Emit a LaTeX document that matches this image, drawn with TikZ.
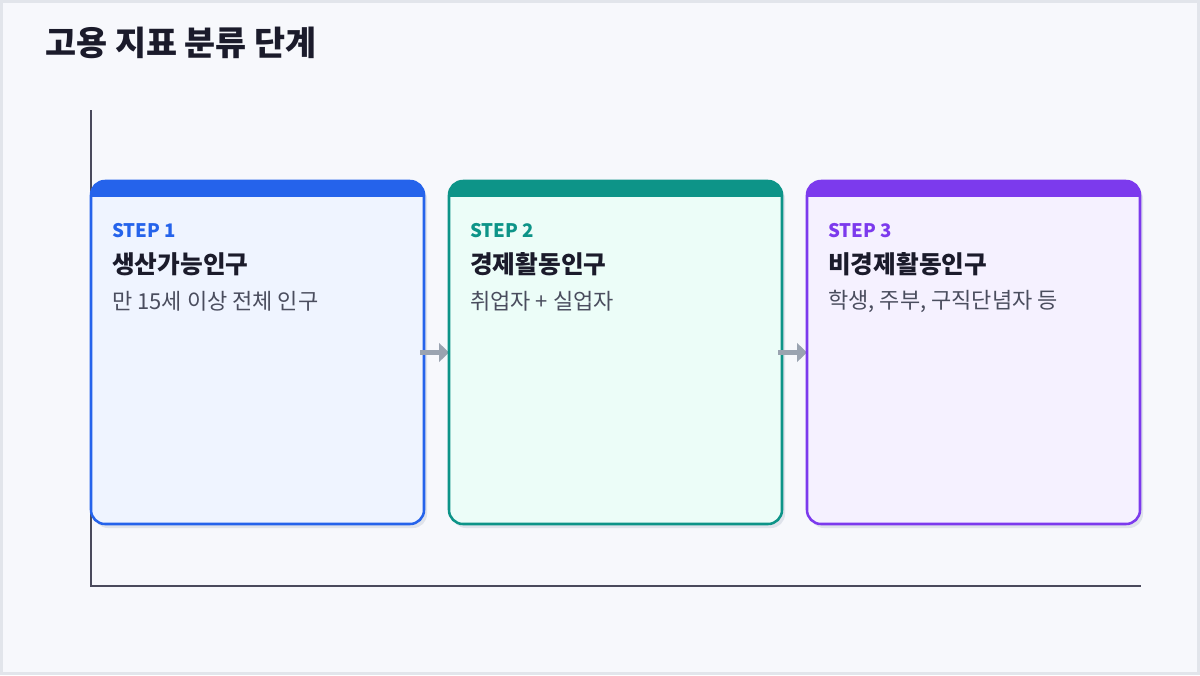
\documentclass[tikz,border=0pt]{standalone}
\usepackage{fontspec}
\setmainfont{Noto Sans CJK KR}
\usetikzlibrary{arrows.meta}
\definecolor{bgc}{HTML}{F7F8FC}
\definecolor{framec}{HTML}{E2E5EB}
\definecolor{axisc}{HTML}{4A4A5C}
\definecolor{titlec}{HTML}{1B1B2B}
\definecolor{descc}{HTML}{4A4D5E}
\definecolor{arrowc}{HTML}{9AA3B0}
\definecolor{shadowc}{HTML}{DFE3EB}
\definecolor{blueA}{HTML}{2563EB}
\definecolor{blueB}{HTML}{EFF4FF}
\definecolor{tealA}{HTML}{0D9488}
\definecolor{tealB}{HTML}{ECFDF8}
\definecolor{purA}{HTML}{7C3AED}
\definecolor{purB}{HTML}{F5F1FF}
\tikzset{
  boxbody/.style={rounded corners=10.5pt, line width=1.9pt},
  boxshadow/.style={rounded corners=10.5pt, fill=shadowc},
  steplabel/.style={anchor=west, inner sep=0pt, font=\fontsize{14pt}{16pt}\selectfont\bfseries},
  boxtitle/.style={anchor=west, inner sep=0pt, text=titlec, font=\fontsize{18.5pt}{21pt}\selectfont\bfseries},
  boxdesc/.style={anchor=west, inner sep=0pt, text=descc, font=\fontsize{16.5pt}{19pt}\selectfont},
  flowarrow/.style={draw=arrowc, line width=3.2pt, -{Triangle[length=7.5pt,width=14pt]}},
  axisline/.style={draw=axisc, line width=1.5pt},
}
\newcommand{\stepbox}[6]{%
  % #1 name, #2 x, #3 main colour, #4 fill colour, #5 step, #6 title
  \fill[boxshadow] (#2+3,185) rectangle (#2+336,528);
  \draw[boxbody, draw=#3, fill=#4] (#2,181) rectangle (#2+333,524);
  \begin{scope}
    \clip[rounded corners=10.5pt] (#2,181) rectangle (#2+333,524);
    \fill[#3] (#2,180) rectangle (#2+333,197);
  \end{scope}
  \node[draw=none, minimum width=333*0.75pt, minimum height=343*0.75pt, inner sep=0pt] (#1) at (#2+166.5,352.5) {};
  \node[steplabel, text=#3] (#1s) at (#2+21,231) {#5};
  \node[boxtitle] (#1t) at (#2+21,264) {#6};
}
\begin{document}
\begin{tikzpicture}[x=0.75pt,y=-0.75pt]
  \useasboundingbox (0,0) rectangle (1200,675);
  \fill[bgc] (0,0) rectangle (1200,675);
  \draw[framec, line width=2.2pt] (1.5,1.5) rectangle (1198.5,673.5);
  \node[anchor=west, inner sep=0pt, text=titlec, font=\fontsize{25.3pt}{29pt}\selectfont\bfseries] (title) at (45,43) {고용 지표 분류 단계};
  % axes
  \coordinate (ytop) at (91,110);
  \coordinate (origin) at (91,586);
  \coordinate (xend) at (1141,586);
  \draw[axisline] (ytop) -- (origin) -- (xend);
  % boxes
  \stepbox{b1}{91}{blueA}{blueB}{STEP 1}{생산가능인구}
  \node[boxdesc] (b1d) at (112,301) {만 15세 이상 전체 인구};
  \draw[flowarrow] ([xshift=-3pt]b1.east) -- (b1.east -| 449,0);
  \stepbox{b2}{449}{tealA}{tealB}{STEP 2}{경제활동인구}
  \node[boxdesc] (b2d) at (470,301) {취업자 + 실업자};
  \draw[flowarrow] ([xshift=-3pt]b2.east) -- (b2.east -| 807,0);
  \stepbox{b3}{807}{purA}{purB}{STEP 3}{비경제활동인구}
  \node[boxdesc] (b3d) at (828,301) {학생, 주부, 구직단념자 등};
\end{tikzpicture}
\end{document}
